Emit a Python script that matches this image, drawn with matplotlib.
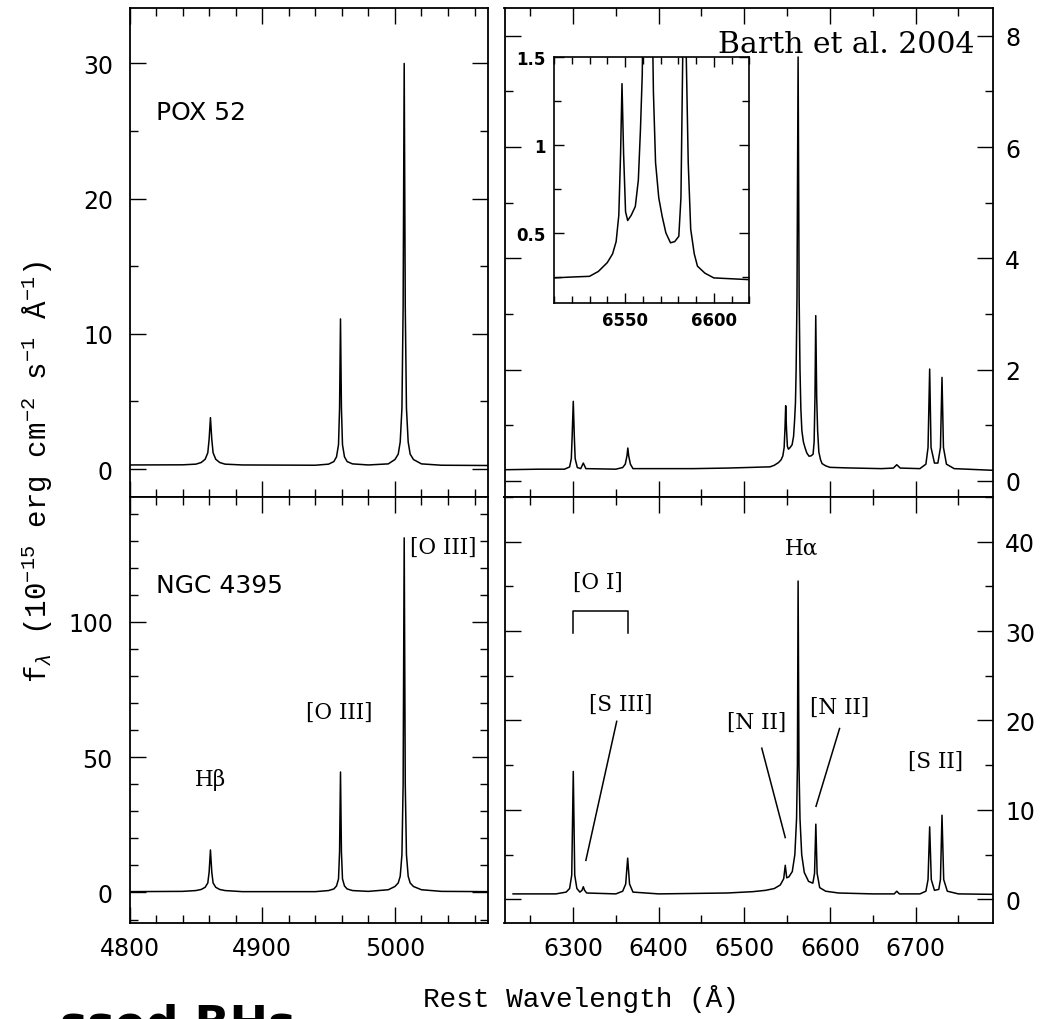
import matplotlib

matplotlib.use("Agg")
import matplotlib.pyplot as plt
from matplotlib.ticker import MultipleLocator

plt.rcParams["mathtext.fontset"] = "custom"
plt.rcParams["mathtext.rm"] = "Liberation Mono"
plt.rcParams["mathtext.it"] = "Liberation Mono:italic"
plt.rcParams["mathtext.bf"] = "Liberation Mono:bold"

# fluxes in 1e-15 erg cm^-2 s^-1 A^-1
pox_blue_wave = [4800, 4840, 4850, 4854, 4857, 4859, 4860, 4861, 4862, 4863, 4865, 4868, 4872, 4885,
                 4940, 4950, 4954, 4956, 4957.5, 4958.3, 4959, 4959.7, 4960.5, 4962, 4964, 4968, 4980,
                 4995, 5000, 5002.5, 5004, 5005.3, 5006.2, 5007, 5007.8, 5008.7, 5010, 5011.5,
                 5014, 5020, 5035, 5070]
pox_blue_flux = [0.30, 0.31, 0.36, 0.48, 0.72, 1.2, 2.2, 3.8, 2.2, 1.2, 0.72, 0.48, 0.36, 0.30,
                 0.28, 0.36, 0.55, 0.9, 1.8, 4.5, 11.1, 4.5, 1.8, 0.9, 0.55, 0.38, 0.30,
                 0.38, 0.70, 1.1, 2.0, 4.5, 12.0, 30.0, 12.0, 4.5, 2.0, 1.1,
                 0.70, 0.38, 0.28, 0.26]

ngc_blue_wave = pox_blue_wave
ngc_blue_flux = [0.3, 0.4, 0.7, 1.1, 1.9, 3.5, 7.5, 15.7, 7.5, 3.5, 1.9, 1.1, 0.7, 0.3,
                 0.3, 0.7, 1.3, 2.4, 5.0, 15.0, 44.5, 15.0, 5.0, 2.4, 1.3, 0.7, 0.4,
                 1.0, 2.2, 3.5, 6.0, 14.0, 40.0, 131.0, 40.0, 14.0, 6.0, 3.5,
                 2.2, 1.0, 0.4, 0.3]

pox_red_wave = [6220, 6260, 6290, 6296, 6298, 6299, 6300.3, 6301.5, 6302.5, 6305, 6309, 6312,
                6315, 6350, 6358, 6361, 6363, 6364, 6365, 6367, 6370, 6440, 6480, 6510,
                6520, 6530, 6535, 6540, 6543, 6545, 6546.5, 6547.5, 6548.3, 6549.2, 6550.3,
                6551.5, 6553.5, 6555.8, 6557.5, 6558.7, 6559.7, 6560.5, 6561.5, 6562.8, 6564,
                6565, 6566, 6567.2, 6569, 6570.9, 6573, 6575.6, 6578, 6580.3, 6581.5, 6582.5,
                6583.4, 6584.5, 6585.6, 6587, 6589, 6590.8, 6595, 6600, 6620, 6660, 6674,
                6678, 6682, 6705, 6712, 6714.5, 6716.4, 6718, 6722, 6726, 6729, 6730.8,
                6732.5, 6736, 6745, 6790]
pox_red_flux = [0.20, 0.21, 0.21, 0.25, 0.40, 0.80, 1.43, 0.80, 0.40, 0.24, 0.22, 0.32,
                0.22, 0.21, 0.24, 0.30, 0.45, 0.59, 0.45, 0.30, 0.22, 0.22, 0.23, 0.243,
                0.248, 0.252, 0.28, 0.33, 0.38, 0.45, 0.60, 0.95, 1.35, 0.95, 0.62,
                0.57, 0.60, 0.65, 0.80, 1.09, 1.40, 2.0, 3.3, 7.62, 3.3,
                2.0, 1.3, 0.90, 0.70, 0.595, 0.50, 0.443, 0.45, 0.48, 0.70, 1.5,
                2.97, 1.5, 0.90, 0.52, 0.38, 0.31, 0.27, 0.243, 0.233, 0.22, 0.23,
                0.29, 0.23, 0.22, 0.30, 0.60, 2.01, 0.60, 0.32, 0.32, 0.60, 1.86,
                0.60, 0.30, 0.22, 0.19]

ngc_red_wave = [6230, 6280, 6292, 6296, 6298.5, 6300.3, 6302, 6304.5, 6308, 6310.5, 6312,
                6313.5, 6316, 6350, 6358, 6361.5, 6363.8, 6366, 6370, 6400, 6480, 6510,
                6525, 6535, 6542, 6546, 6547.8, 6549.5, 6552, 6556, 6559, 6561, 6562,
                6562.8, 6563.8, 6565, 6567, 6570, 6575, 6580, 6582, 6583.5, 6585, 6588,
                6595, 6610, 6650, 6675, 6678, 6681, 6705, 6712, 6714.5, 6716.4, 6718.3,
                6722, 6727, 6729, 6730.8, 6732.8, 6737, 6750, 6790]
ngc_red_flux = [0.6, 0.6, 0.8, 1.2, 2.7, 14.3, 2.7, 1.2, 0.8, 1.0, 1.4,
                1.0, 0.7, 0.6, 0.9, 1.7, 4.6, 1.7, 0.8, 0.6, 0.7, 0.85,
                1.0, 1.2, 1.6, 2.3, 3.8, 2.4, 2.5, 3.1, 5.0, 9.0, 15.0,
                35.6, 15.0, 9.0, 5.0, 3.0, 2.0, 1.8, 2.9, 8.4, 2.9, 1.3,
                0.9, 0.7, 0.6, 0.6, 0.9, 0.6, 0.6, 0.9, 2.2, 8.1, 2.2,
                1.0, 1.1, 2.2, 9.4, 2.2, 0.9, 0.6, 0.55]

# line identifications for the NGC 4395 panels: (text, wavelength, flux)
blue_labels = [("H\u03b2", 4861, 42.0, "center"),
               ("[O III]", 4958, 66.9, "center"),
               ("[O III]", 5011, 127.7, "left")]
red_labels = [("H\u03b1", 6567, 39.4),
              ("[O I]", 6329, 35.5),
              ("[S III]", 6356, 21.9),
              ("[N II]", 6514, 19.9),
              ("[N II]", 6611, 21.5),
              ("[S II]", 6723, 15.5)]
# leader lines (x0, y0, x1, y1) in data units
red_leaders = [(6351, 19.9, 6315, 4.35),
               (6520.4, 16.9, 6547.8, 6.9),
               (6611.2, 19.1, 6583.7, 10.4)]
oi_bracket_x = [6300.4, 6300.4, 6363.7, 6363.7]
oi_bracket_y = [29.8, 32.2, 32.2, 29.8]

W, H = 1059, 1020
TICK_FONT = "DejaVu Sans"
LINE_FONT = "DejaVu Serif"


def style(ax, xmaj, xmin, ymaj, ymin, right_labels=False, show_x=False):
    ax.xaxis.set_major_locator(MultipleLocator(xmaj))
    ax.xaxis.set_minor_locator(MultipleLocator(xmin))
    ax.yaxis.set_major_locator(MultipleLocator(ymaj))
    ax.yaxis.set_minor_locator(MultipleLocator(ymin))
    ax.tick_params(which="both", direction="in", top=True, bottom=True, left=True, right=True,
                   width=1.0, labelsize=17)
    ax.tick_params(which="major", length=11.5)
    ax.tick_params(which="minor", length=6)
    ax.tick_params(axis="x", labelbottom=show_x, pad=10)
    if right_labels:
        ax.tick_params(axis="y", labelleft=False, labelright=True, pad=9)
    else:
        ax.tick_params(axis="y", pad=12)
    for lab in ax.get_xticklabels() + ax.get_yticklabels():
        lab.set_family(TICK_FONT)
    for sp in ax.spines.values():
        sp.set_linewidth(1.3)


def main():
    fig = plt.figure(figsize=(W / 100, H / 100), dpi=100)
    fig.patch.set_facecolor("white")

    lx, lw = 129.5 / W, 358.3 / W
    rx, rw = 504.5 / W, 488.2 / W
    ty, th = 1 - 498 / H, 489 / H
    by, bh = 1 - 923.5 / H, 425.5 / H

    ax_tl = fig.add_axes([lx, ty, lw, th])
    ax_tr = fig.add_axes([rx, ty, rw, th])
    ax_bl = fig.add_axes([lx, by, lw, bh])
    ax_br = fig.add_axes([rx, by, rw, bh])

    lw_spec = 1.1
    ax_tl.plot(pox_blue_wave, pox_blue_flux, color="black", lw=lw_spec)
    ax_bl.plot(ngc_blue_wave, ngc_blue_flux, color="black", lw=lw_spec)
    ax_tr.plot(pox_red_wave, pox_red_flux, color="black", lw=lw_spec)
    ax_br.plot(ngc_red_wave, ngc_red_flux, color="black", lw=lw_spec)

    ax_tl.set_xlim(4800, 5070)
    ax_tl.set_ylim(-2.07, 34.1)
    ax_bl.set_xlim(4800, 5070)
    ax_bl.set_ylim(-11.1, 146.1)
    ax_tr.set_xlim(6220, 6790)
    ax_tr.set_ylim(-0.29, 8.5)
    ax_br.set_xlim(6220, 6790)
    ax_br.set_ylim(-2.6, 45.0)

    style(ax_tl, 100, 20, 10, 5)
    style(ax_bl, 100, 20, 50, 10, show_x=True)
    style(ax_tr, 100, 50, 2, 1, right_labels=True)
    style(ax_br, 100, 50, 10, 5, right_labels=True, show_x=True)

    ax_tl.text(4820, 26.4, "POX 52", fontsize=18, family=TICK_FONT, va="center", ha="left")
    ax_bl.text(4820, 113.7, "NGC 4395", fontsize=18, family=TICK_FONT, va="center", ha="left")

    for text, x, y, ha in blue_labels:
        ax_bl.text(x, y, text, fontsize=15.5, family=LINE_FONT, ha=ha, va="center")
    for text, x, y in red_labels:
        ax_br.text(x, y, text, fontsize=15.5, family=LINE_FONT, ha="center", va="center")
    for x0, y0, x1, y1 in red_leaders:
        ax_br.plot([x0, x1], [y0, y1], color="black", lw=1.1)
    ax_br.plot(oi_bracket_x, oi_bracket_y, color="black", lw=1.1)

    # inset: zoom on the H-alpha + [N II] complex of POX 52
    ax_in = fig.add_axes([554 / W, 1 - 304 / H, 195.3 / W, 245.7 / H])
    ax_in.plot(pox_red_wave, pox_red_flux, color="black", lw=1.1)
    ax_in.set_xlim(6510, 6620)
    ax_in.set_ylim(0.1, 1.5)
    ax_in.xaxis.set_major_locator(MultipleLocator(50))
    ax_in.xaxis.set_minor_locator(MultipleLocator(10))
    ax_in.yaxis.set_major_locator(MultipleLocator(0.5))
    ax_in.yaxis.set_minor_locator(MultipleLocator(0.25))
    ax_in.yaxis.set_major_formatter(plt.FuncFormatter(lambda v, p: f"{v:g}"))
    ax_in.tick_params(which="both", direction="in", top=True, right=True, width=1.0,
                      labelsize=12, pad=6)
    ax_in.tick_params(which="major", length=7.5)
    ax_in.tick_params(which="minor", length=5)
    for lab in ax_in.get_xticklabels() + ax_in.get_yticklabels():
        lab.set_family(TICK_FONT)
        lab.set_fontweight("bold")
    for sp in ax_in.spines.values():
        sp.set_linewidth(1.2)

    fig.text(581 / W, 1 - 1007 / H, "Rest Wavelength (\u00c5)", fontsize=20,
             family="Liberation Mono", ha="center", va="baseline")
    ylabel = "f$_\\lambda$ (10$^{-15}$ erg cm$^{-2}$ s$^{-1}$ \u00c5$^{-1}$)"
    fig.text(37 / W, 1 - 472 / H, ylabel, fontsize=21, family="Liberation Mono",
             rotation=90, ha="center", va="center")
    fig.text(718 / W, 1 - 53 / H, "Barth et al. 2004", fontsize=21.5, family="DejaVu Serif",
             ha="left", va="baseline")
    # fragment of slide text, cut by the bottom edge as in the source image
    fig.text(60 / W, 1 - 1039 / H, "ssed BHs", fontsize=33, family="DejaVu Sans",
             fontweight="bold", ha="left", va="baseline")

    fig.savefig("out.png", dpi=100, facecolor="white")
    plt.close(fig)


if __name__ == "__main__":
    main()
